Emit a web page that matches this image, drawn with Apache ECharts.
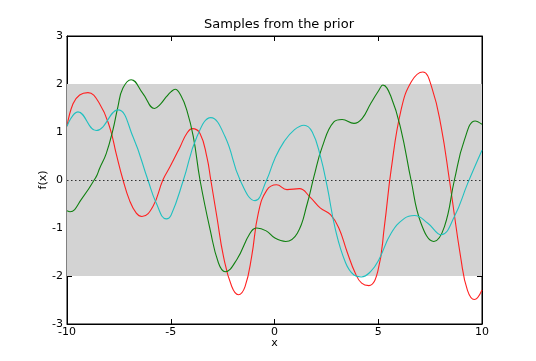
<!DOCTYPE html>
<html><head><meta charset="utf-8">
<script src="https://cdn.jsdelivr.net/npm/echarts@6/dist/echarts.min.js"></script>
<style>html,body{margin:0;padding:0;background:#fff}#c{width:536px;height:361px}</style>
</head><body><div id="c"></div>
<script>
const xTicks = [-10, -5, 0, 5, 10];
const yTicks = [-3, -2, -1, 0, 1, 2, 3];
const bandLow = -2, bandHigh = 2, zeroLine = 0;

const redX = [-10, -9.71, -9.39, -8.99, -8.43, -7.95, -7.63, -7.3, -6.99, -6.66, -6.39, -5.86, -5.38, -5.03, -4.55, -4.23, -3.96, -3.59, -3.26, -3.07, -2.78, -2.46, -2.06, -1.74, -1.42, -1.10, -0.78, -0.37, 0.1, 0.6, 1.2, 1.7, 2.2, 2.7, 3.1, 3.5, 3.9, 4.2, 4.55, 4.98, 5.3, 5.62, 6.1, 6.6, 7.15, 7.6, 8.03, 8.43, 8.99, 9.3, 9.63, 10];
const redY = [1.12, 1.59, 1.77, 1.82, 1.59, 1.11, 0.55, 0.00, -0.42, -0.69, -0.76, -0.55, 0.00, 0.28, 0.69, 0.97, 1.07, 0.97, 0.48, 0.00, -0.76, -1.59, -2.22, -2.39, -2.22, -1.59, -0.69, -0.21, -0.10, -0.20, -0.18, -0.35, -0.58, -0.72, -1.00, -1.50, -1.95, -2.15, -2.20, -1.90, -0.95, 0.21, 1.46, 2.05, 2.25, 1.90, 1.11, 0.00, -1.66, -2.30, -2.49, -2.29];

const greenX = [-10, -9.85, -9.3, -8.59, -8.43, -8.11, -7.79, -7.55, -7.31, -6.91, -6.34, -5.78, -5.54, -5.22, -4.98, -4.79, -4.5, -4.23, -3.91, -3.59, -3.1, -2.70, -2.38, -1.82, -1.18, -0.86, -0.4, 0.02, 0.54, 1.10, 1.58, 1.90, 2.30, 2.86, 3.26, 3.83, 4.22, 4.63, 5.03, 5.22, 5.62, 6.10, 6.58, 7.06, 7.68, 8.19, 8.67, 9.15, 9.67, 10];
const greenY = [-0.64, -0.66, -0.40, 0.07, 0.24, 0.55, 1.04, 1.52, 1.91, 2.09, 1.80, 1.49, 1.56, 1.73, 1.84, 1.89, 1.75, 1.46, 0.90, 0.00, -1.04, -1.73, -1.91, -1.66, -1.11, -1.00, -1.06, -1.21, -1.28, -1.11, -0.49, 0.07, 0.69, 1.21, 1.26, 1.18, 1.28, 1.59, 1.87, 1.98, 1.73, 1.04, 0.00, -0.90, -1.28, -0.97, 0.00, 0.83, 1.23, 1.16];

const cyanX = [-10, -9.47, -8.59, -7.55, -6.82, -6.10, -5.70, -5.22, -4.98, -4.39, -3.74, -3.07, -2.38, -1.66, -0.94, -0.38, 0.02, 0.46, 0.94, 1.42, 1.82, 2.22, 2.54, 2.94, 3.43, 3.83, 4.18, 4.63, 5.03, 5.62, 6.26, 6.74, 7.39, 8.03, 8.67, 9.31, 10];
const cyanY = [1.12, 1.42, 1.03, 1.46, 0.90, 0.00, -0.48, -0.81, -0.73, 0.00, 0.90, 1.30, 0.90, 0.00, -0.43, 0.00, 0.45, 0.80, 1.04, 1.14, 1.00, 0.48, -0.14, -1.04, -1.73, -1.98, -2.02, -1.91, -1.66, -1.11, -0.80, -0.74, -0.90, -1.14, -0.76, -0.07, 0.62];

const zip = (xs, ys) => xs.map((x, i) => [x, ys[i]]);
const font = 'DejaVu Sans';

const chart = echarts.init(document.getElementById('c'), null, {renderer: 'canvas'});
const axisCommon = {
  type: 'value',
  axisLine: {show: true, onZero: false, lineStyle: {color: '#000', width: 1}},
  axisTick: {show: true, inside: true, length: 5, lineStyle: {color: '#000'}},
  splitLine: {show: false},
};
chart.setOption({
  animation: false,
  backgroundColor: '#fff',
  title: {text: 'Samples from the prior', left: 274, top: 13, textAlign: 'center',
    textStyle: {fontFamily: font, fontSize: 13, fontWeight: 'normal', color: '#000'}},
  grid: {left: 67, right: 54, top: 36, bottom: 37, show: true, borderColor: '#000', borderWidth: 1, backgroundColor: 'transparent'},
  xAxis: [
    Object.assign({}, axisCommon, {min: xTicks[0], max: xTicks[xTicks.length-1], interval: 5, position: 'bottom',
      name: 'x', nameLocation: 'middle', nameGap: 14, nameMoveOverlap: false, nameTextStyle: {fontFamily: font, fontSize: 11, color: '#000'},
      axisLabel: {fontFamily: font, fontSize: 11, color: '#000', margin: 3}}),
    Object.assign({}, axisCommon, {min: xTicks[0], max: xTicks[xTicks.length-1], interval: 5, position: 'top',
      axisLabel: {show: false}})
  ],
  yAxis: [
    Object.assign({}, axisCommon, {min: yTicks[0], max: yTicks[yTicks.length-1], interval: 1, position: 'left',
      name: 'f(x)', nameLocation: 'middle', nameGap: 18, nameMoveOverlap: false, nameRotate: 90, nameTextStyle: {fontFamily: font, fontSize: 11, color: '#000'},
      axisLabel: {fontFamily: font, fontSize: 11, color: '#000', margin: 4}}),
    Object.assign({}, axisCommon, {min: yTicks[0], max: yTicks[yTicks.length-1], interval: 1, position: 'right',
      axisLabel: {show: false}})
  ],
  series: [
    {type: 'line', name: 'band', data: [[xTicks[0], zeroLine], [xTicks[xTicks.length-1], zeroLine]], symbol: 'none', silent: true, z: 1,
      lineStyle: {opacity: 0},
      markArea: {silent: true, itemStyle: {color: '#d3d3d3', opacity: 1}, data: [[{yAxis: bandLow}, {yAxis: bandHigh}]]},
      markLine: {silent: true, symbol: 'none', label: {show: false}, lineStyle: {color: '#333', type: [1.5, 2.5], width: 1}, data: [{yAxis: zeroLine}]}
    },
    {type: 'line', name: 'red', data: zip(redX, redY), smooth: 0.45, symbol: 'none', z: 3, lineStyle: {color: '#ff2020', width: 1.1}},
    {type: 'line', name: 'green', data: zip(greenX, greenY), smooth: 0.45, symbol: 'none', z: 3, lineStyle: {color: '#108010', width: 1.1}},
    {type: 'line', name: 'cyan', data: zip(cyanX, cyanY), smooth: 0.45, symbol: 'none', z: 3, lineStyle: {color: '#20c0c0', width: 1.1}}
  ]
});
</script></body></html>
